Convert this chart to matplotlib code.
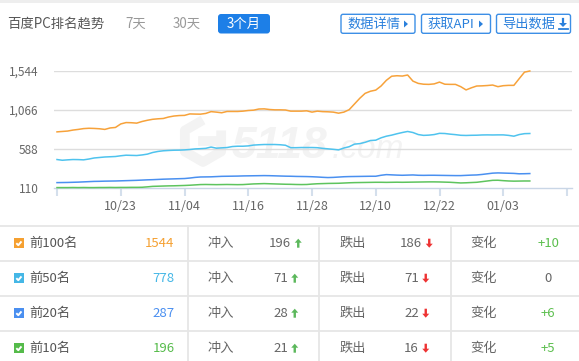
import matplotlib
matplotlib.use("Agg")
import matplotlib.pyplot as plt
from matplotlib.patches import Rectangle, FancyBboxPatch, Polygon
import numpy as np

plt.rcParams['font.family'] = ['Noto Sans CJK SC', 'DejaVu Sans']

# ---- data ----
tick_labels = ['', '10/23', '11/04', '11/16', '11/28', '12/10', '12/22', '01/03', '']
y_ticks = [110, 588, 1066, 1544]
y_tick_labels = ['110', '588', '1,066', '1,544']

top100 = [798, 803, 808, 820, 828, 838, 842, 840, 836, 828,
          846, 852, 895, 912, 910, 905, 925, 940, 952, 958,
          962, 980, 992, 998, 1000, 1018, 1016, 1015, 1024, 1046,
          1040, 1032, 1048, 1048, 1048, 1052, 1060, 1064, 1078, 1080,
          1072, 1068, 1068, 1066, 1052, 1052, 1052, 1056, 1040, 1052,
          1046, 1044, 1040, 1027, 1040, 1070, 1140, 1210, 1270, 1296,
          1310, 1360, 1430, 1480, 1486, 1482, 1495, 1420, 1392, 1382,
          1380, 1386, 1408, 1382, 1380, 1380, 1352, 1312, 1338, 1360,
          1362, 1366, 1372, 1352, 1364, 1368, 1368, 1450, 1530, 1544]
top50 = [459, 450, 455, 459, 458, 455, 465, 478, 484, 490,
         493, 496, 505, 512, 510, 508, 515, 525, 545, 558,
         566, 570, 573, 574, 577, 582, 589, 592, 596, 612,
         598, 602, 606, 618, 622, 622, 626, 636, 640, 643,
         643, 643, 640, 634, 604, 604, 606, 606, 606, 604,
         596, 590, 584, 577, 600, 616, 648, 654, 670, 692,
         696, 725, 745, 758, 775, 790, 803, 790, 765, 755,
         758, 765, 780, 778, 770, 764, 756, 754, 756, 757,
         760, 761, 760, 761, 761, 755, 745, 765, 776, 778]
top20 = [176, 177, 178, 180, 182, 185, 188, 191, 192, 194,
         195, 196, 198, 200, 202, 204, 207, 210, 212, 215,
         218, 220, 222, 224, 226, 232, 240, 245, 246, 247,
         250, 253, 254, 255, 256, 258, 259, 260, 261, 262,
         261, 259, 257, 255, 254, 252, 251, 250, 248, 245,
         241, 238, 240, 244, 248, 250, 251, 252, 253, 254,
         254, 266, 274, 271, 268, 266, 268, 270, 266, 265,
         266, 266, 265, 264, 263, 262, 262, 265, 268, 270,
         276, 284, 292, 295, 293, 291, 289, 284, 285, 287]
top10 = [115, 115, 115, 116, 115, 116, 115, 115, 116, 116,
         117, 116, 117, 117, 118, 118, 119, 124, 130, 132,
         134, 136, 137, 139, 141, 144, 148, 152, 153, 152,
         151, 152, 153, 152, 151, 152, 156, 160, 162, 164,
         162, 160, 158, 156, 155, 153, 152, 153, 158, 162,
         164, 166, 167, 168, 171, 174, 176, 177, 178, 179,
         180, 180, 179, 180, 181, 180, 181, 182, 183, 184,
         185, 185, 184, 182, 180, 176, 172, 174, 177, 180,
         188, 196, 204, 205, 200, 196, 194, 195, 196, 196]

rank_labels = ['前100名', '前50名', '前20名', '前10名']
totals = [1544, 778, 287, 196]
ins = [196, 71, 28, 21]
outs = [186, 71, 22, 16]
changes = [10, 0, 6, 5]

line_colors = ['#f7a23a', '#4fc3ee', '#4a90f0', '#5ec45e']
num_colors = ['#f5a031', '#45b7e6', '#4a8ff0', '#55bb4a']

W, H = 579, 361
fig = plt.figure(figsize=(W / 100, H / 100), dpi=100)
fig.patch.set_facecolor('white')

# ---- chart axes ----
x0, x1, ytop, ybot = 54, 572, 71, 188
ax = fig.add_axes([x0 / W, 1 - ybot / H, (x1 - x0) / W, (ybot - ytop) / H])
px_per_day = 5.3125
ax.set_xlim((x0 - 57) / px_per_day, (x1 - 57) / px_per_day)
ax.set_ylim(110, 1544)
for s in ['top', 'right', 'left']:
    ax.spines[s].set_visible(False)
ax.spines['bottom'].set_color('#c9d6e6')
ax.spines['bottom'].set_linewidth(1)

days = np.arange(len(top100))
for series, c in zip([top10, top20, top50, top100], line_colors[::-1]):
    ax.plot(days, series, color=c, lw=1.1, clip_on=False, zorder=3)

for v in y_ticks[1:]:
    ax.axhline(v, color='#dddddd', lw=1, zorder=1)

ax.set_xticks(np.arange(0, 97, 12))
ax.set_xticklabels(tick_labels, fontsize=9, color='#666666')
ax.tick_params(axis='x', length=6, width=1.5, color='#d4dfec', pad=3)
ax.set_yticks(y_ticks)
ax.set_yticklabels(y_tick_labels, fontsize=8.5, color='#666666')
ax.tick_params(axis='y', length=0, pad=11)
ax.patch.set_visible(False)

# ---- overlay in pixel coordinates ----
ov = fig.add_axes([0, 0, 1, 1], zorder=-1)
ov.set_xlim(0, W)
ov.set_ylim(H, 0)
ov.axis('off')

# top band
ov.add_patch(Rectangle((0, 0), W, 3, fc='#eeeeee', ec='none'))

# faint watermark
wm = '#f3f3f3'
hx, hy, r = 203, 141, 21
ang = np.deg2rad(np.arange(30, 390, 60))
hexpts = np.c_[hx + r * np.cos(ang), hy + r * np.sin(ang)]
ov.plot(hexpts[[5, 0, 1, 2, 3, 4], 0], hexpts[[5, 0, 1, 2, 3, 4], 1],
        color=wm, lw=7, solid_capstyle='butt')
ov.plot([hx, hx + r * 0.86], [hy, hy], color=wm, lw=7)
ov.text(232, 158, '5118', fontsize=32, style='italic', color=wm,
        family='Liberation Sans', fontweight='bold', va='baseline')
ov.text(332, 158, '.com', fontsize=24, style='italic', color=wm,
        family='Liberation Sans', va='baseline')

# header
ov.text(7, 24, '百度PC排名趋势', fontsize=9.6, color='#555555', va='center')
ov.text(125, 24, '7天', fontsize=9.6, color='#999999', va='center')
ov.text(173, 24, '30天', fontsize=9.6, color='#999999', va='center')
ov.add_patch(FancyBboxPatch((218, 14), 52, 19.5, boxstyle='round,pad=0,rounding_size=3',
                            fc='#1d7fe7', ec='none'))
ov.text(244, 24, '3个月', fontsize=9.6, color='white', ha='center', va='center')

btn_blue = '#2a80dc'
for bx, bw, label in [(341, 74, '数据详情'), (421.5, 69, '获取API'), (496.5, 74, '导出数据')]:
    ov.add_patch(FancyBboxPatch((bx, 14.3), bw, 19, boxstyle='round,pad=0,rounding_size=2',
                                fc='white', ec='#3d8fe6', lw=1))
    ov.text(bx + 6, 24, label, fontsize=9.5, color=btn_blue, va='center')
ov.add_patch(Polygon([[404, 20.5], [404, 27.5], [408, 24]], fc=btn_blue, ec='none'))
ov.add_patch(Polygon([[479, 20.5], [479, 27.5], [483, 24]], fc=btn_blue, ec='none'))
ov.add_patch(Polygon([[559, 23], [567, 23], [563, 27]], fc=btn_blue, ec='none'))
ov.plot([563, 563], [19, 23.5], color=btn_blue, lw=1.6)
ov.plot([558.5, 567.5], [29, 29], color=btn_blue, lw=1.3)

# table grid
grid_c = '#e6e6e6'
for yy in [225.7, 260.7, 295.7, 330.7]:
    ov.plot([0, W], [yy, yy], color=grid_c, lw=1.3)
for xx in [188, 319.3, 450.7]:
    ov.plot([xx, xx], [225.7, H], color=grid_c, lw=1.3)


def arrow(x, y, up, color):
    # small filled arrow, x = left edge, y = vertical center
    s = 1 if up else -1
    pts = [[x, y - 0.5 * s], [x + 3.5, y - 4.5 * s], [x + 7, y - 0.5 * s],
           [x + 4.7, y - 0.5 * s], [x + 4.7, y + 4.5 * s], [x + 2.3, y + 4.5 * s],
           [x + 2.3, y - 0.5 * s]]
    ov.add_patch(Polygon(pts, fc=color, ec='none'))


digit_w = 7.0
for i in range(4):
    yc = 243.2 + 35 * i
    ov.add_patch(Rectangle((14, yc - 5), 9.5, 9.5, fc=num_colors[i], ec='none'))
    ov.plot([16.3, 18.3, 21.5], [yc, yc + 2, yc - 1.8], color='white', lw=1.4,
            solid_capstyle='butt')
    ov.text(29, yc, rank_labels[i], fontsize=9.5, color='#555555', va='center')
    ov.text(174.5, yc, str(totals[i]), fontsize=9.5, color=num_colors[i],
            ha='right', va='center')
    ov.text(207.5, yc, '冲入', fontsize=9.5, color='#666666', va='center')
    ov.text(339.3, yc, '跌出', fontsize=9.5, color='#666666', va='center')
    ov.text(470, yc, '变化', fontsize=9.5, color='#666666', va='center')

    for cx, val, up, col in [(286, ins[i], True, '#5cb85c'), (417, outs[i], False, '#ee3333')]:
        tw = len(str(val)) * digit_w
        gw = tw + 3.5 + 7
        start = cx - gw / 2
        ov.text(start + tw, yc, str(val), fontsize=9.5, color='#666666',
                ha='right', va='center')
        arrow(start + tw + 3.5, yc, up, col)

    ch = changes[i]
    ch_txt = '+%d' % ch if ch > 0 else str(ch)
    ch_col = '#5cbf4e' if ch > 0 else '#666666'
    ov.text(548, yc, ch_txt, fontsize=9.5, color=ch_col, ha='center', va='center')

fig.savefig('out.png', dpi=100)
